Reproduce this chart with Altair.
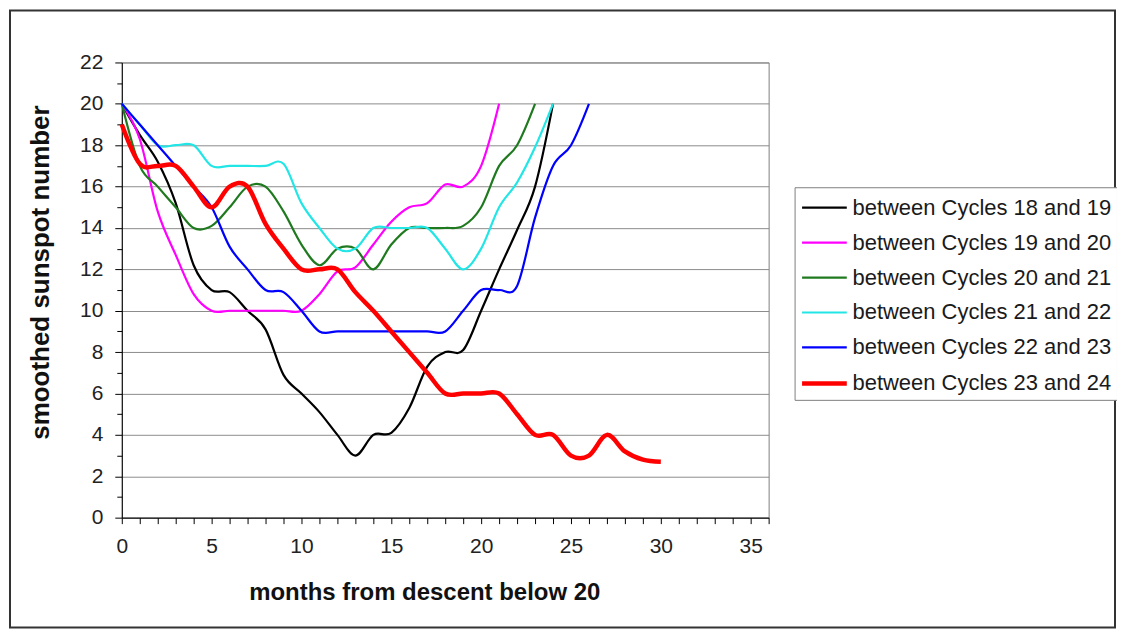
import altair as alt
import pandas as pd

series_names = [
    "between Cycles 18 and 19",
    "between Cycles 19 and 20",
    "between Cycles 20 and 21",
    "between Cycles 21 and 22",
    "between Cycles 22 and 23",
    "between Cycles 23 and 24",
]
series_colors = ["#000000", "#FF00FF", "#1F7A1F", "#22E6E6", "#0000FF", "#FF0000"]
series_widths = [2.2, 2.2, 2.2, 2.2, 2.2, 4.5]

# smoothed sunspot number by month from descent below 20
c18_19 = [20, 18.5, 17.2, 15.2, 12.2, 11.0, 10.9, 10.0, 9.1, 6.9, 6.0, 5.1, 4.0,
          3.0, 4.0, 4.1, 5.3, 7.3, 8.0, 8.1, 10.0, 12.0, 13.9, 16.0, 20.0]
c19_20 = [20, 18.3, 14.8, 12.7, 10.8, 10.0, 10.0, 10.0, 10.0, 10.0, 10.0, 10.8,
          11.9, 12.1, 13.2, 14.3, 15.0, 15.2, 16.1, 16.0, 17.0, 20.0]
c20_21 = [20, 17.0, 16.0, 15.0, 14.0, 14.1, 15.0, 16.0, 16.0, 14.8, 13.2, 12.2,
          13.0, 13.0, 12.0, 13.2, 14.0, 14.0, 14.0, 14.1, 15.0, 17.0, 18.0, 20.0]
c21_22 = [20, 19.0, 18.0, 18.0, 18.0, 17.0, 17.0, 17.0, 17.0, 17.1, 15.2, 14.0,
          13.0, 13.0, 14.0, 14.0, 14.0, 14.0, 13.0, 12.0, 13.0, 15.0, 16.2, 17.9, 20.0]
c22_23 = [20, 19.0, 18.0, 17.0, 16.0, 15.0, 13.1, 12.0, 11.0, 10.9, 10.0, 9.0,
          9.0, 9.0, 9.0, 9.0, 9.0, 9.0, 9.0, 10.0, 11.0, 11.0, 11.2, 14.5, 17.0, 18.0, 20.0]
c23_24 = [19.0, 17.1, 17.0, 17.0, 16.0, 15.0, 16.0, 16.0, 14.2, 13.0, 12.0, 12.0,
          12.0, 10.9, 10.0, 9.0, 8.0, 7.0, 6.0, 6.0, 6.0, 6.0, 5.0, 4.0, 4.0, 3.0,
          3.0, 4.0, 3.2, 2.8, 2.7]

all_series = [c18_19, c19_20, c20_21, c21_22, c22_23, c23_24]

x_ticks = list(range(0, 37))
y_ticks = list(range(0, 23))

rows = []
for name, vals in zip(series_names, all_series):
    for m, v in enumerate(vals):
        rows.append({"month": m, "ssn": v, "cycle": name})
df = pd.DataFrame(rows)

FONT = "Liberation Sans"

x_axis = alt.Axis(
    values=x_ticks,
    labelExpr="datum.value % 5 == 0 ? datum.label : ''",
    labelOverlap=False,
    labelFlush=False,
    grid=False,
    tickSize=6,
    tickColor="#000000",
    domainColor="#000000",
    labelFontSize=21,
    labelColor="#222222",
    labelPadding=12,
    titleFontSize=24,
    titleFontWeight="bold",
    titleColor="#111111",
    titlePadding=24,
    titleX=303,
)

y_axis = alt.Axis(
    values=y_ticks,
    labelExpr="datum.value % 2 == 0 ? datum.label : ''",
    labelOverlap=False,
    labelFlush=False,
    gridColor="#8c8c8c",
    gridOpacity={"condition": {"test": "datum.value % 2 == 0", "value": 1}, "value": 0},
    tickSize={"condition": {"test": "datum.value % 2 == 0", "value": 7}, "value": 5},
    tickColor="#000000",
    domainColor="#000000",
    labelFontSize=21,
    labelColor="#222222",
    labelPadding=12,
    titleFontSize=26,
    titleFontWeight="bold",
    titleColor="#111111",
    titlePadding=26,
    titleY=210,
)

lines = alt.Chart(df).mark_line(interpolate="cardinal").encode(
    x=alt.X("month:Q", scale=alt.Scale(domain=[0, 36], nice=False, zero=False),
            axis=x_axis, title="months from descent below 20"),
    y=alt.Y("ssn:Q", scale=alt.Scale(domain=[0, 22], nice=False),
            axis=y_axis, title="smoothed sunspot number"),
    color=alt.Color(
        "cycle:N",
        scale=alt.Scale(domain=series_names, range=series_colors),
        sort=series_names,
        title=None,
        legend=alt.Legend(
            orient="none",
            legendX=674,
            legendY=125,
            symbolType="M-1,0H2.2",
            symbolSize=784,
            labelFontSize=22,
            labelColor="#1a1a1a",
            labelOffset=20,
            labelLimit=400,
            strokeColor="#808080",
            fillColor="#ffffff",
            padding=5,
            rowPadding=8,
        ),
    ),
    strokeWidth=alt.StrokeWidth(
        "cycle:N",
        scale=alt.Scale(type="ordinal", domain=series_names, range=series_widths),
        sort=series_names,
        title=None,
    ),
    order=alt.Order("month:Q"),
)

frame = alt.Chart(alt.Data(values=[{"k": 1}])).mark_rect(
    fillOpacity=0, stroke="#333333", strokeWidth=2
).encode(
    x=alt.value(-112), x2=alt.value(995), y=alt.value(-52), y2=alt.value(566)
)

chart = alt.layer(lines, frame).properties(
    width=648,
    height=456,
    autosize=alt.AutoSizeParams(type="none"),
    padding={"left": 114, "top": 54, "right": 349, "bottom": 112},
).configure(
    font=FONT,
).configure_view(
    stroke="#808080", strokeWidth=1
)

chart.save("out.html", embed_options={"renderer": "svg", "actions": False})
